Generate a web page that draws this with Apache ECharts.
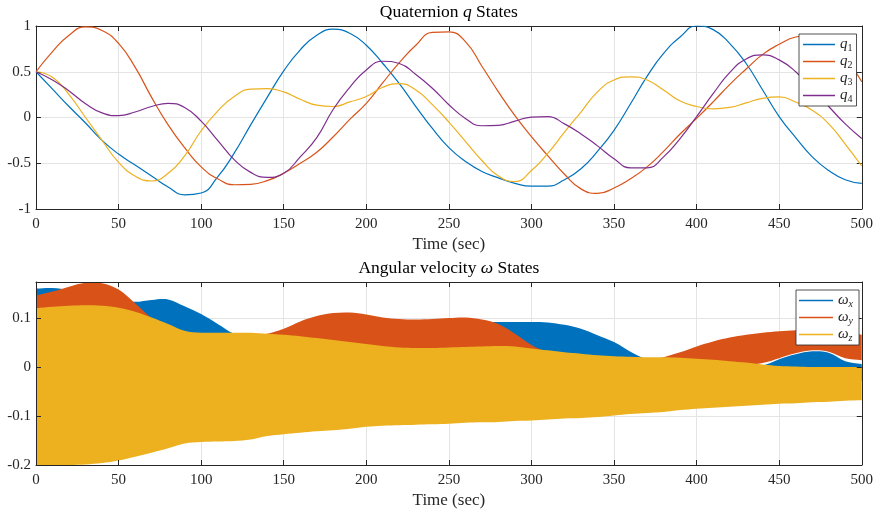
<!DOCTYPE html>
<html><head><meta charset="utf-8">
<script src="https://cdn.jsdelivr.net/npm/echarts@6/dist/echarts.min.js"></script>
<style>html,body{margin:0;padding:0;background:#fff}#c{width:876px;height:513px}</style>
</head><body><div id="c"></div>
<script>
// ---------- data ----------
const time = [0,10,20,30,40,50,60,70,80,90,100,110,120,130,140,150,160,170,180,190,200,210,220,230,240,250,260,270,280,290,300,310,320,330,340,350,360,370,380,390,400,410,420,430,440,450,460,470,480,490,500];

const q1 = [0.50,0.31,0.12,-0.06,-0.25,-0.40,-0.52,-0.64,-0.76,-0.845,-0.825,-0.65,-0.39,-0.08,0.22,0.51,0.74,0.90,0.965,0.92,0.79,0.59,0.37,0.12,-0.12,-0.33,-0.48,-0.59,-0.66,-0.72,-0.75,-0.75,-0.68,-0.56,-0.37,-0.14,0.15,0.45,0.70,0.88,1.00,0.96,0.81,0.59,0.30,0.01,-0.22,-0.43,-0.58,-0.68,-0.72];
const q2 = [0.50,0.72,0.90,0.99,0.95,0.81,0.55,0.22,-0.08,-0.33,-0.54,-0.67,-0.735,-0.73,-0.69,-0.61,-0.50,-0.38,-0.21,-0.02,0.155,0.38,0.60,0.79,0.93,0.935,0.83,0.56,0.28,0.02,-0.21,-0.42,-0.62,-0.78,-0.83,-0.77,-0.67,-0.54,-0.37,-0.18,-0.01,0.17,0.36,0.53,0.69,0.80,0.88,0.90,0.84,0.66,0.39];
const q3 = [0.50,0.44,0.25,0.00,-0.25,-0.49,-0.64,-0.694,-0.61,-0.42,-0.145,0.07,0.23,0.31,0.315,0.28,0.20,0.135,0.12,0.17,0.23,0.33,0.37,0.30,0.14,-0.05,-0.26,-0.47,-0.64,-0.70,-0.58,-0.39,-0.16,0.06,0.28,0.41,0.445,0.41,0.30,0.18,0.12,0.095,0.11,0.16,0.21,0.225,0.17,0.08,-0.07,-0.29,-0.53];
const q4 = [0.50,0.41,0.29,0.15,0.05,0.02,0.06,0.12,0.155,0.11,-0.04,-0.25,-0.46,-0.60,-0.655,-0.61,-0.43,-0.22,0.09,0.33,0.52,0.615,0.59,0.47,0.32,0.14,-0.01,-0.09,-0.085,-0.04,0.005,0.01,-0.07,-0.18,-0.31,-0.45,-0.55,-0.55,-0.43,-0.23,0.01,0.26,0.49,0.64,0.685,0.63,0.50,0.31,0.12,-0.07,-0.23];

// angular velocity: envelopes (upper / lower) of the fast oscillation
const wxUpper = [0.160,0.161,0.157,0.150,0.143,0.135,0.133,0.137,0.138,0.124,0.108,0.088,0.068,0.060,0.060,0.065,0.070,0.075,0.080,0.083,0.086,0.088,0.089,0.090,0.091,0.092,0.092,0.092,0.092,0.092,0.092,0.091,0.086,0.078,0.065,0.051,0.031,0.015,0.005,0.000,-0.005,-0.005,-0.003,0.000,0.003,0.016,0.026,0.032,0.029,0.012,0.006];
const wxLower = [-0.160,-0.158,-0.155,-0.152,-0.148,-0.144,-0.140,-0.136,-0.132,-0.128,-0.124,-0.120,-0.116,-0.112,-0.108,-0.104,-0.100,-0.097,-0.094,-0.091,-0.088,-0.086,-0.084,-0.082,-0.080,-0.078,-0.076,-0.074,-0.072,-0.070,-0.068,-0.066,-0.064,-0.062,-0.060,-0.058,-0.056,-0.054,-0.052,-0.050,-0.048,-0.046,-0.044,-0.042,-0.040,-0.038,-0.036,-0.034,-0.032,-0.030,-0.028];
const wyUpper = [0.146,0.154,0.164,0.172,0.171,0.158,0.130,0.100,0.080,0.070,0.065,0.062,0.062,0.064,0.068,0.078,0.093,0.104,0.110,0.111,0.107,0.101,0.098,0.097,0.098,0.100,0.101,0.097,0.088,0.068,0.045,0.030,0.020,0.012,0.008,0.006,0.008,0.012,0.020,0.030,0.042,0.052,0.060,0.066,0.070,0.073,0.075,0.076,0.076,0.072,0.066];
const wyLower = [-0.150,-0.148,-0.146,-0.143,-0.140,-0.137,-0.134,-0.131,-0.128,-0.125,-0.122,-0.119,-0.116,-0.113,-0.110,-0.107,-0.104,-0.101,-0.098,-0.095,-0.092,-0.089,-0.086,-0.083,-0.080,-0.077,-0.074,-0.071,-0.068,-0.065,-0.062,-0.059,-0.056,-0.053,-0.050,-0.047,-0.044,-0.041,-0.010,-0.005,0.000,0.000,0.002,0.004,0.008,0.018,0.028,0.034,0.031,0.018,0.014];
const wzUpper = [0.120,0.123,0.125,0.126,0.125,0.121,0.113,0.101,0.088,0.074,0.070,0.070,0.070,0.070,0.068,0.066,0.063,0.059,0.055,0.051,0.047,0.043,0.040,0.039,0.039,0.040,0.041,0.042,0.043,0.042,0.038,0.034,0.030,0.027,0.024,0.022,0.021,0.020,0.020,0.019,0.017,0.015,0.012,0.009,0.005,0.002,0.001,0.000,0.000,0.000,0.000];
const wzLower = [-0.200,-0.200,-0.200,-0.199,-0.196,-0.191,-0.183,-0.175,-0.166,-0.156,-0.153,-0.152,-0.151,-0.148,-0.141,-0.137,-0.134,-0.131,-0.129,-0.126,-0.122,-0.120,-0.119,-0.118,-0.117,-0.116,-0.114,-0.113,-0.112,-0.110,-0.109,-0.107,-0.105,-0.104,-0.102,-0.099,-0.096,-0.094,-0.092,-0.088,-0.085,-0.083,-0.081,-0.079,-0.077,-0.075,-0.074,-0.072,-0.071,-0.069,-0.068];

const qNames = ['q1','q2','q3','q4'];
const wNames = ['ωx','ωy','ωz'];
const colors = ['#0072BD','#D95319','#EDB120','#7E2F8E'];

// ---------- chart ----------
const FONT = '"Liberation Serif","Times New Roman",serif';
const AX = '#262626';
const GRIDC = '#e4e4e4';

function fmtY(v){
  const r = Math.round(v*1000)/1000;
  if (Math.abs(r*10 - Math.round(r*10)) > 1e-6) return '';
  return String(r);
}
const richTitle = { i:{fontFamily:FONT,fontStyle:'italic',fontSize:17.5,color:'#000'} };

function xAxes(g, title){
  const base = {gridIndex:g,type:'value',min:0,max:500,interval:50};
  return [
    Object.assign({},base,{position:'bottom',z:0,axisLine:{show:false,onZero:false},axisTick:{show:false},axisLabel:{show:false},splitLine:{show:true,lineStyle:{color:GRIDC,width:1}}}),
    Object.assign({},base,{position:'bottom',z:3,axisLine:{show:true,onZero:false,lineStyle:{color:AX,width:1}},
      axisTick:{show:true,inside:true,length:5,lineStyle:{color:AX}},
      axisLabel:{show:true,margin:8,color:AX,fontFamily:FONT,fontSize:15},
      splitLine:{show:false},name:'Time (sec)',nameLocation:'middle',nameGap:27,
      nameTextStyle:{color:AX,fontFamily:FONT,fontSize:17}}),
    Object.assign({},base,{position:'top',z:3,axisLine:{show:true,onZero:false,lineStyle:{color:AX,width:1}},
      axisTick:{show:true,inside:true,length:5,lineStyle:{color:AX}},
      axisLabel:{show:false},splitLine:{show:false},name:title,nameLocation:'middle',nameGap:5,
      nameTextStyle:{color:'#000',fontFamily:FONT,fontSize:17.5,rich:richTitle}})
  ];
}
function yAxes(g, mn, mx, iv){
  const base = {gridIndex:g,type:'value',min:mn,max:mx,interval:iv};
  return [
    Object.assign({},base,{position:'left',z:0,axisLine:{show:false,onZero:false},axisTick:{show:false},axisLabel:{show:false},splitLine:{show:true,lineStyle:{color:GRIDC,width:1}}}),
    Object.assign({},base,{position:'left',z:3,axisLine:{show:true,onZero:false,lineStyle:{color:AX,width:1}},
      axisTick:{show:true,inside:true,length:5,lineStyle:{color:AX}},
      axisLabel:{show:true,margin:5,color:AX,fontFamily:FONT,fontSize:15,formatter:fmtY},splitLine:{show:false}}),
    Object.assign({},base,{position:'right',z:3,axisLine:{show:true,onZero:false,lineStyle:{color:AX,width:1}},
      axisTick:{show:true,inside:true,length:5,lineStyle:{color:AX}},
      axisLabel:{show:false},splitLine:{show:false}})
  ];
}

const pairs = arr => time.map((t,i)=>[t,arr[i]]);
const series = [];
[q1,q2,q3,q4].forEach((arr,k)=>{
  series.push({name:qNames[k],type:'line',xAxisIndex:1,yAxisIndex:1,data:pairs(arr),
    showSymbol:false,symbol:'none',smooth:0.5,color:colors[k],lineStyle:{width:1.2,color:colors[k]}});
});
const bands = [[wxLower,wxUpper],[wyLower,wyUpper],[wzLower,wzUpper]];
bands.forEach(([lo,hi],k)=>{
  series.push({
    name:wNames[k],type:'custom',xAxisIndex:4,yAxisIndex:4,clip:true,
    color:colors[k],itemStyle:{color:colors[k]},
    data:[[time[0],lo[0]]],
    renderItem:function(params, api){
      const n = time.length, pts = [];
      pts.push(api.coord([time[0],hi[0]]));
      for (let i=0;i<n;i++) pts.push(api.coord([time[i],hi[i]]));
      pts.push(api.coord([time[n-1],hi[n-1]]));
      pts.push(api.coord([time[n-1],lo[n-1]]));
      for (let i=n-1;i>=0;i--) pts.push(api.coord([time[i],lo[i]]));
      pts.push(api.coord([time[0],lo[0]]));
      return {type:'polygon',shape:{points:pts,smooth:0.35},style:{fill:colors[k],stroke:null}};
    }
  });
});

const legRich = {
  i:{fontFamily:FONT,fontStyle:'italic',fontSize:15,lineHeight:17,color:AX},
  s:{fontFamily:FONT,fontSize:10,lineHeight:10,verticalAlign:'bottom',color:AX},
  si:{fontFamily:FONT,fontStyle:'italic',fontSize:10,lineHeight:10,verticalAlign:'bottom',color:AX}
};
const legendBase = {orient:'vertical',icon:'rect',itemHeight:1.5,itemGap:0,itemWidth:32,itemTextGap:4,
  backgroundColor:'#fff',borderColor:AX,borderWidth:0.8,borderRadius:0,selectedMode:false,
  textStyle:{fontFamily:FONT,fontSize:15,lineHeight:17,color:AX,rich:legRich}};

const option = {
  animation:false,
  backgroundColor:'#fff',
  grid:[
    {left:36,top:26,width:827,height:183,containLabel:false},
    {left:36,top:282,width:827,height:183,containLabel:false}
  ],
  xAxis:[...xAxes(0,'Quaternion {i|q} States'),...xAxes(1,'Angular velocity {i|ω} States')],
  yAxis:[...yAxes(0,-1,1,0.5),...yAxes(1,-0.2,0.1735,0.1)],
  legend:[
    Object.assign({},legendBase,{data:qNames,left:799,top:34,padding:[2,4,2,4],
      formatter:n=>'{i|q}{s|'+n.slice(1)+'}'}),
    Object.assign({},legendBase,{data:wNames,left:796,top:290,padding:[2,6,2,3],itemWidth:34,
      formatter:n=>'{i|ω}{si|'+n.slice(1)+'}'})
  ],
  series:series
};
const chart = echarts.init(document.getElementById('c'),null,{renderer:'canvas'});
chart.setOption(option);
</script></body></html>
